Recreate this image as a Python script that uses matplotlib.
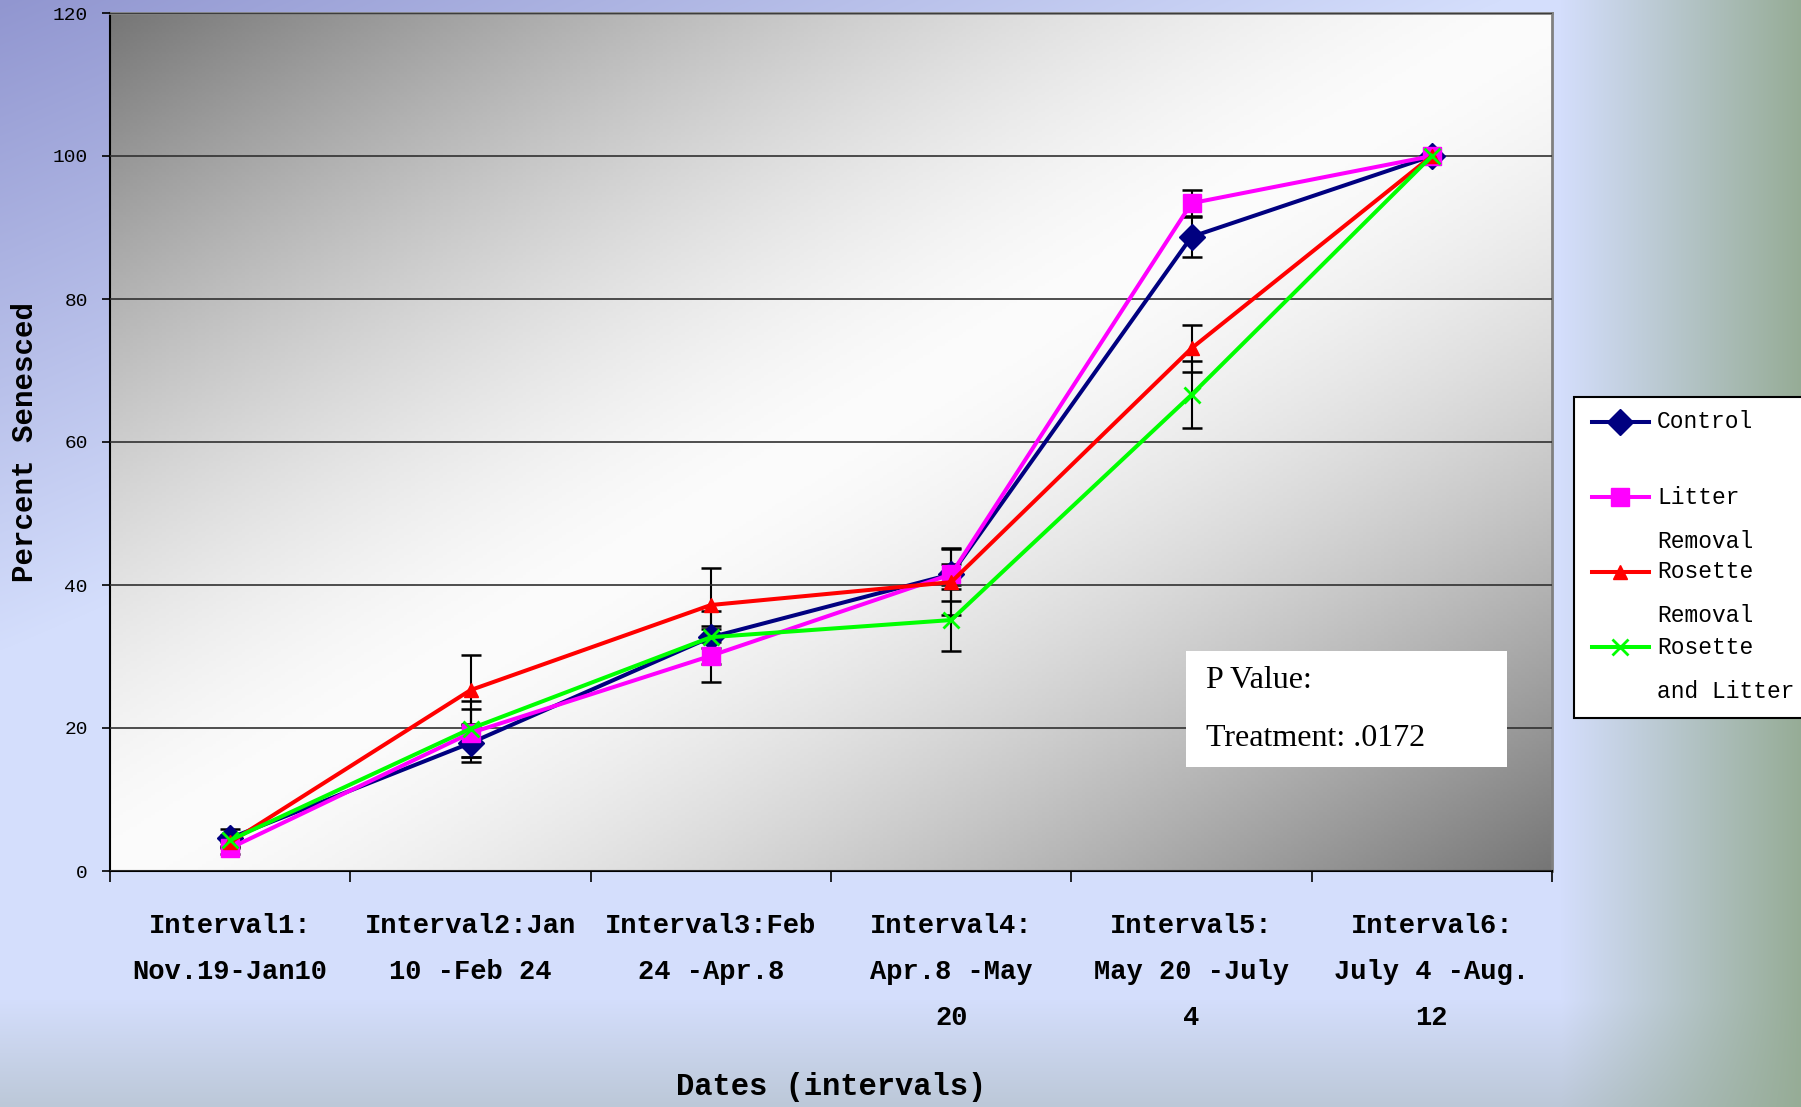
import numpy as np
import matplotlib
matplotlib.use('Agg')
import matplotlib.pyplot as plt
from matplotlib.patches import Rectangle
from matplotlib.lines import Line2D

plt.rcParams['font.family'] = 'Liberation Mono'

# data
intervals = ['Interval1:\nNov.19-Jan10', 'Interval2:Jan\n10 -Feb 24', 'Interval3:Feb\n24 -Apr.8',
             'Interval4:\nApr.8 -May\n20', 'Interval5:\nMay 20 -July\n4', 'Interval6:\nJuly 4 -Aug.\n12']
control = [4.6, 17.9, 32.7, 41.5, 88.7, 100]
litter = [3.2, 19.3, 30.1, 41.5, 93.4, 100]
rosette = [4.0, 25.3, 37.2, 40.4, 73.1, 100]
ros_litter = [4.3, 19.9, 32.7, 35.1, 66.6, 100]
control_err = [1.3, 2.6, 3.7, 3.7, 2.8, 0]
litter_err = [0.8, 3.4, 3.7, 1.5, 1.8, 0]
rosette_err = [0.8, 4.9, 5.2, 4.6, 3.3, 0]
ros_litter_err = [0.8, 3.9, 1.5, 4.3, 4.7, 0]

series = [
    ('Control', control, control_err, '#000080', 'D', 13, 1),
    ('Litter\nRemoval', litter, litter_err, '#ff00ff', 's', 13, 1),
    ('Rosette\nRemoval', rosette, rosette_err, '#ff0000', '^', 10, 1),
    ('Rosette\nand Litter', ros_litter, ros_litter_err, '#00ff00', 'x', 11, 2),
]

W, H = 1801, 1107
fig = plt.figure(figsize=(W / 100, H / 100), dpi=100)

# figure background gradient
yy, xx = np.mgrid[0:H, 0:W].astype(float)
base = np.array([212, 222, 252], float)
purple = np.array([145, 150, 208], float)
p = np.clip(1 - (xx / 1500 + yy / 650), 0, 1)[..., None]
img = base * (1 - p) + purple * p
q = np.clip((yy - 1000) / 107, 0, 1)[..., None]
img = img * (1 - q) + np.array([188, 200, 216]) * q
r = np.clip((xx - 1560) / 241, 0, 1)[..., None]
img = img * (1 - r) + np.array([150, 172, 150]) * r
bg = fig.add_axes([0, 0, 1, 1], zorder=-5)
bg.imshow(img.astype(np.uint8), aspect='auto')
bg.axis('off')

ax = fig.add_axes([110 / W, 1 - 871 / H, 1442 / W, 858 / H])

# plot area gradient: dark corners, white diagonal
u = np.linspace(0, 1, 400)
v = np.linspace(1, 0, 300)
U, V = np.meshgrid(u, v)
t = (U + (1 - V)) / 2
g = 252 - 134 * (np.abs(t - 0.5) / 0.5) ** 1.5
ax.imshow(np.dstack([g, g, g]).astype(np.uint8), extent=[0, 1, 0, 1], transform=ax.transAxes,
          aspect='auto', zorder=0)

x = np.arange(len(intervals))
for name, vals, err, col, mk, ms, mew in series:
    ax.errorbar(x, vals, yerr=err, fmt='none', ecolor='black', elinewidth=1.5, capsize=7,
                capthick=1.8, zorder=2)
for name, vals, err, col, mk, ms, mew in series:
    ax.plot(x, vals, color=col, lw=2.9, marker=mk, markersize=ms, markeredgewidth=mew, zorder=3)

ax.set_xlim(-0.5, 5.5)
ax.set_ylim(0, 120)
ax.set_yticks(range(0, 121, 20))
ax.yaxis.grid(True, color='#303030', lw=1.2)
ax.set_axisbelow(False)
for gl in ax.get_ygridlines():
    gl.set_zorder(1)
ax.tick_params(axis='y', length=6, width=1.2, pad=10, labelsize=14)
ax.set_xticks(x)
ax.set_xticklabels(intervals, fontsize=19.5, fontweight='bold', linespacing=2.0)
ax.set_xticks(np.arange(-0.5, 6, 1), minor=True)
ax.tick_params(axis='x', which='major', length=0, pad=30)
ax.tick_params(axis='x', which='minor', length=8, width=1.2)
ax.spines['left'].set_linewidth(1.5)
ax.spines['bottom'].set_linewidth(1.5)
for s in ['top', 'right']:
    ax.spines[s].set_color('#808080')
    ax.spines[s].set_linewidth(2)

ax.set_xlabel('Dates (intervals)', fontsize=22, fontweight='bold', va='center')
ax.xaxis.set_label_coords(0.5, -0.252)
ax.set_ylabel('Percent Senesced', fontsize=21, fontweight='bold', va='center')
ax.yaxis.set_label_coords(-0.059, 0.5)

# P value box
ax.add_patch(Rectangle(((1186 - 110) / 1442, (871 - 767) / 858), 321 / 1442, 116 / 858,
                       transform=ax.transAxes, facecolor='white', edgecolor='none', zorder=4))
ax.text((1206 - 110) / 1442, (871 - 681) / 858, 'P Value:', transform=ax.transAxes,
        family='Liberation Serif', fontsize=23, va='center', zorder=5)
ax.text((1206 - 110) / 1442, (871 - 738) / 858, 'Treatment: .0172', transform=ax.transAxes,
        family='Liberation Serif', fontsize=23, va='center', zorder=5)


def fx(px):
    return px / W


def fy(py):
    return 1 - py / H


# legend box drawn by hand (entries overlap like the original)
fig.add_artist(Rectangle((fx(1574), fy(718)), fx(260), 321 / H, transform=fig.transFigure,
                         facecolor='white', edgecolor='black', lw=1.5, zorder=6))
for i, (name, vals, err, col, mk, ms, mew) in enumerate(series):
    yc = 422 + 75 * i
    fig.add_artist(Line2D([fx(1592), fx(1649)], [fy(yc), fy(yc)], color=col, lw=2.9,
                          transform=fig.transFigure, zorder=7))
    fig.add_artist(Line2D([fx(1620)], [fy(yc)], color=col, marker=mk, markersize=ms,
                          markeredgewidth=mew, transform=fig.transFigure, zorder=7))
    for j, line in enumerate(name.split('\n')):
        fig.text(fx(1657), fy(yc + 44 * j), line, fontsize=16.5, va='center', zorder=8)

fig.savefig('out.png', dpi=100)
